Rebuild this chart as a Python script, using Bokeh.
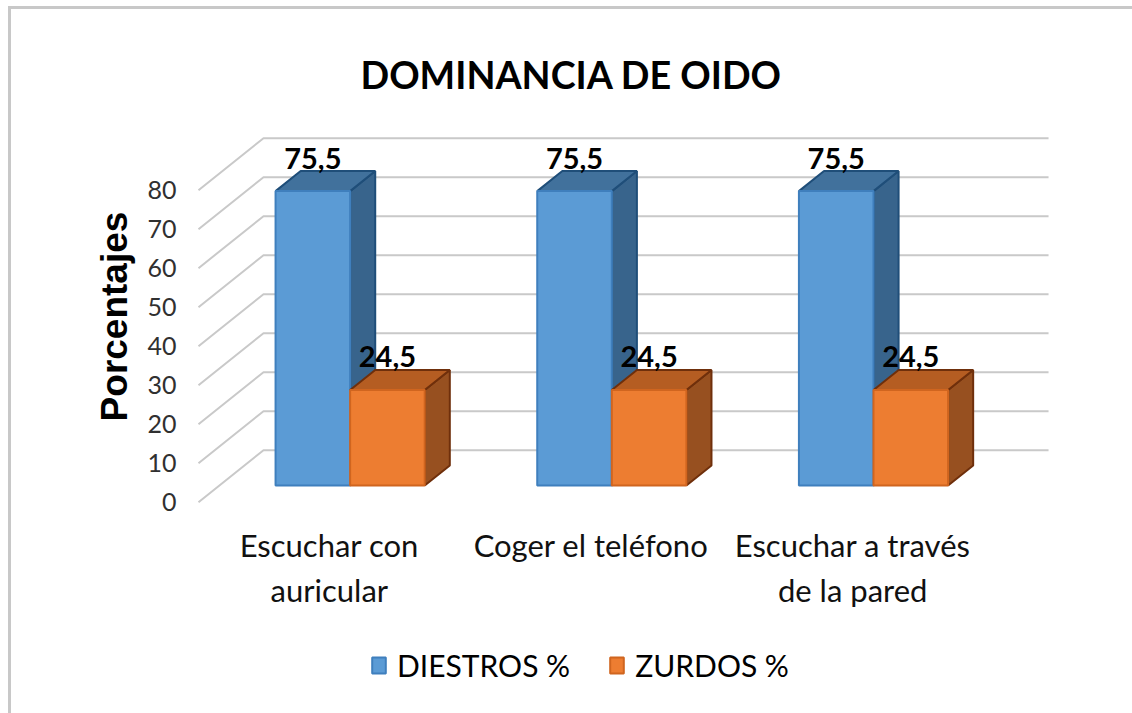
from bokeh.plotting import figure
from bokeh.models import Range1d, FixedTicker, Legend, LegendItem
from bokeh.core.properties import value
from bokeh.embed import file_html
from bokeh.resources import INLINE

title = "DOMINANCIA DE OIDO"
y_label = "Porcentajes"
categories = ["Escuchar con\nauricular", "Coger el teléfono", "Escuchar a través\nde la pared"]
diestros = [75.5, 75.5, 75.5]
zurdos = [24.5, 24.5, 24.5]
y_ticks = [0, 10, 20, 30, 40, 50, 60, 70, 80]
series_names = ["DIESTROS %", "ZURDOS %"]

DX, DY = 0.2484, 13.33      # full depth of the 3D floor, in axis units
FRONT, BACK = 0.32, 0.706   # bar depth within the floor
BAR_W = 0.285
FONT = "Lato"
GRID = "#c9c9c9"

p = figure(width=1124, height=707, output_backend="svg", toolbar_location=None,
           x_range=Range1d(-0.0076, 3.275), y_range=Range1d(-0.33, 95.56),
           frame_width=859, frame_height=374,
           min_border_left=185, min_border_right=80, min_border_top=120, min_border_bottom=210,
           x_axis_location="below", y_axis_location="left", outline_line_color=None,
           background_fill_color="white", border_fill_color="white",
           margin=(6, 0, 0, 8),
           styles={"border-left": "3px solid #c8c8c8", "border-top": "3px solid #c8c8c8",
                   "border-right": "1px solid #e6e6e6", "box-sizing": "border-box"})
p.grid.visible = False

def proj(x, v, d):
    return x + d * DX, v + d * DY

# walls
xs, ys = [], []
for t in y_ticks:
    a, b, c = proj(0, t, 0), proj(0, t, 1), proj(3, t, 1)
    xs.append([a[0], b[0], c[0]])
    ys.append([a[1], b[1], c[1]])
p.multi_line(xs, ys, line_color=GRID, line_width=2)

def bars(vals, off, front, top, side, edge, front_edge):
    sx, sy, tx, ty = [], [], [], []
    l, r, b, tp = [], [], [], []
    for i, v in enumerate(vals):
        x0, x1 = i + 0.5 + off, i + 0.5 + off + BAR_W
        c = [proj(x1, 0, FRONT), proj(x1, 0, BACK), proj(x1, v, BACK), proj(x1, v, FRONT)]
        sx.append([q[0] for q in c]); sy.append([q[1] for q in c])
        c = [proj(x0, v, FRONT), proj(x0, v, BACK), proj(x1, v, BACK), proj(x1, v, FRONT)]
        tx.append([q[0] for q in c]); ty.append([q[1] for q in c])
        a, z = proj(x0, 0, FRONT), proj(x1, v, FRONT)
        l.append(a[0]); r.append(z[0]); b.append(a[1]); tp.append(z[1])
    p.patches(sx, sy, fill_color=side, line_color=edge, line_width=2)
    p.patches(tx, ty, fill_color=top, line_color=edge, line_width=2)
    return p.quad(left=l, right=r, bottom=b, top=tp, fill_color=front, line_color=front_edge, line_width=2)

r1 = bars(diestros, -BAR_W, "#5B9BD5", "#41719C", "#38648C", "#1F4E79", "#3F7FBD")
r2 = bars(zurdos, 0, "#ED7D31", "#B55D22", "#975020", "#6F2F0B", "#D0651F")

# data labels
for vals, off in ((diestros, -BAR_W), (zurdos, 0)):
    lx, ly, lt = [], [], []
    for i, v in enumerate(vals):
        q = proj(i + 0.5 + off + BAR_W / 2, v, FRONT)
        lx.append(q[0]); ly.append(proj(0, v, BACK)[1])
        lt.append(str(v).replace(".", ","))
    p.text(lx, ly, text=lt, text_font=value(FONT), text_font_size="29px", text_color="black",
           text_align="center", text_baseline="middle", y_offset=-13, text_font_style="bold")

# axes
ya = p.yaxis[0]
ya.ticker = FixedTicker(ticks=y_ticks)
ya.axis_label = y_label
ya.axis_label_text_font = "Liberation Sans"
ya.axis_label_text_font_style = "bold"
ya.axis_label_text_font_size = "37px"
ya.axis_label_text_color = "black"
ya.axis_label_standoff = 9
ya.major_label_text_font = FONT
ya.major_label_text_font_size = "25px"
ya.major_label_text_color = "#303030"
ya.major_label_standoff = 14
ya.axis_line_color = None
ya.major_tick_line_color = None
ya.minor_tick_line_color = None

xa = p.xaxis[0]
xa.ticker = FixedTicker(ticks=[i + 0.5 for i in range(3)])
xa.major_label_overrides = {i + 0.5: c for i, c in enumerate(categories)}
xa.major_label_text_font = FONT
xa.major_label_text_font_size = "31px"
xa.major_label_text_color = "#111111"
xa.major_label_standoff = 16
xa.axis_line_color = None
xa.major_tick_line_color = None
xa.minor_tick_line_color = None

p.title.text = title
p.title.text_font = FONT
p.title.text_font_style = "bold"
p.title.text_font_size = "37.7px"
p.title.text_color = "black"
p.title.align = "left"
p.title.vertical_align = "top"
p.title.offset = 164
p.title.standoff = 62

legend = Legend(items=[LegendItem(label=series_names[0], renderers=[r1]),
                       LegendItem(label=series_names[1], renderers=[r2])],
                orientation="horizontal", location=(174, 663), border_line_color=None,
                background_fill_alpha=0, label_text_font=FONT, label_text_font_size="30px",
                label_text_color="black", glyph_width=17, glyph_height=20, label_standoff=10,
                spacing=38, margin=0, padding=0)
p.add_layout(legend, "below")

open("out.html", "w").write(file_html(p, INLINE))
